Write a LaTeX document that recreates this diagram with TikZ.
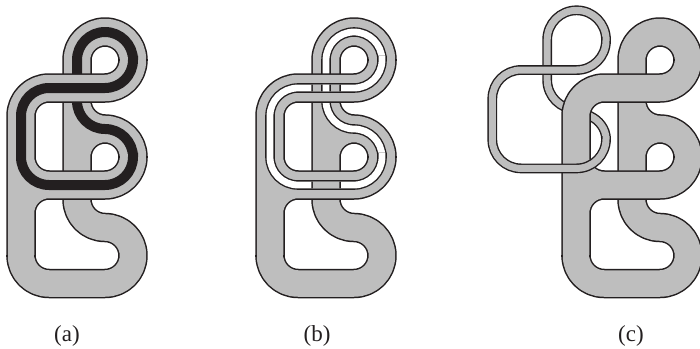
\documentclass[tikz,border=0pt]{standalone}
\usepackage{fontspec}
\setmainfont{Liberation Serif}
\definecolor{band}{HTML}{BEBEBE}
\definecolor{ink}{HTML}{231F20}
% centre lines, in image pixels with y running downwards
\newcommand\lowerlayer[1]{\path[#1]
  (133,157) arc[start angle=0,end angle=-90,radius=28]
  arc[start angle=90,end angle=180,radius=28] -- (77,60)
  arc[start angle=180,end angle=360,radius=28]
  (77,157) arc[start angle=180,end angle=270,radius=28]
  (77,101) -- (77,199.5)
  arc[start angle=180,end angle=90,radius=28]
  arc[start angle=-90,end angle=90,radius=28] -- (49,283.5)
  arc[start angle=90,end angle=180,radius=28];}
\newcommand\upperlayer[1]{\path[#1]
  (21,255.5) -- (21,116) arc[start angle=180,end angle=270,radius=28] -- (105,88)
  arc[start angle=90,end angle=0,radius=28]
  (21,157) arc[start angle=180,end angle=90,radius=28] -- (105,185)
  arc[start angle=90,end angle=0,radius=28]
  (21,213) arc[start angle=180,end angle=270,radius=28];}
\newcommand\seamink{\path[draw=ink,line width=29.5]
  (133,61) -- (133,59) (133,158) -- (133,156) (21,256.5) -- (21,254.5);}
\newcommand\seamband{\path[draw=band,line width=26.5]
  (133,63) -- (133,57) (133,160) -- (133,154) (21,258.5) -- (21,252.5);}
\newcommand\ribbonlow[1]{\path[#1]
  (133,60) arc[start angle=0,end angle=-180,radius=28] -- (77,101)
  arc[start angle=180,end angle=90,radius=28]
  arc[start angle=-90,end angle=0,radius=28];}
\newcommand\ribbonhigh[1]{\path[#1]
  (133,152.5) -- (133,157) arc[start angle=0,end angle=90,radius=28] -- (49,185)
  arc[start angle=90,end angle=180,radius=28] -- (21,116)
  arc[start angle=180,end angle=270,radius=28] -- (105,88)
  arc[start angle=90,end angle=0,radius=28] -- (133,55.5);}
\newcommand\pass[1]{#1{draw=ink,line width=29.5}#1{draw=band,line width=26.5}}
\newcommand\lowerband{\pass\lowerlayer}
\newcommand\upperband{\pass\upperlayer\seamink\seamband}
\newcommand\smallunder[1]{\path[#1]
  (606,39.7) arc[start angle=0,end angle=-180,radius=29.4] -- (547.2,80)
  arc[start angle=180,end angle=90,radius=29.4]
  .. controls (582,110) and (586,112.5) .. (590,116)
  .. controls (599,120) and (606,129) .. (606,139);}
\newcommand\smallover[1]{\path[#1]
  (606,136) -- (606,139) arc[start angle=0,end angle=90,radius=29.4] -- (521,168.4)
  arc[start angle=90,end angle=180,radius=28.7] -- (492.3,98.7)
  arc[start angle=180,end angle=270,radius=28.7] -- (576.6,70)
  arc[start angle=90,end angle=0,radius=29.4] -- (606,37);}
\tikzset{cutbox/.style={inner sep=0pt,font=\fontsize{23}{26}\selectfont,text=ink}}
\begin{document}
\begin{tikzpicture}[x=1pt,y=-1pt,line cap=butt,line join=round]
\useasboundingbox (0,0) rectangle (700,348);
% (a)
\begin{scope}
  \lowerband
  \ribbonlow{draw=ink,line width=10}
  \upperband
  \ribbonhigh{draw=ink,line width=10}
\end{scope}
% (b)
\begin{scope}[shift={(249,0)}]
  \lowerband
  \ribbonlow{draw=ink,line width=9.6}
  \ribbonlow{draw=white,line width=6.8}
  \upperband
  \ribbonhigh{draw=ink,line width=9.6}
  \ribbonhigh{draw=white,line width=6.8}
  \begin{scope}
    \clip (55,84.6) rectangle (100,91.4) (55,181.6) rectangle (100,188.4);
    \lowerband
    \ribbonlow{draw=ink,line width=9.6}
    \ribbonlow{draw=white,line width=6.8}
  \end{scope}
\end{scope}
% (c)
\smallunder{draw=ink,line width=9.8}
\smallunder{draw=band,line width=7}
\begin{scope}[shift={(555,0)}]
  \lowerband
  \upperband
\end{scope}
\smallover{draw=ink,line width=9.8}
\smallover{draw=band,line width=7}
% labels
\node[cutbox] (capa) at (67,336) {(a)};
\node[cutbox] (capb) at (317,336) {(b)};
\node[cutbox] (capc) at (631,336) {(c)};
\end{tikzpicture}
\end{document}
